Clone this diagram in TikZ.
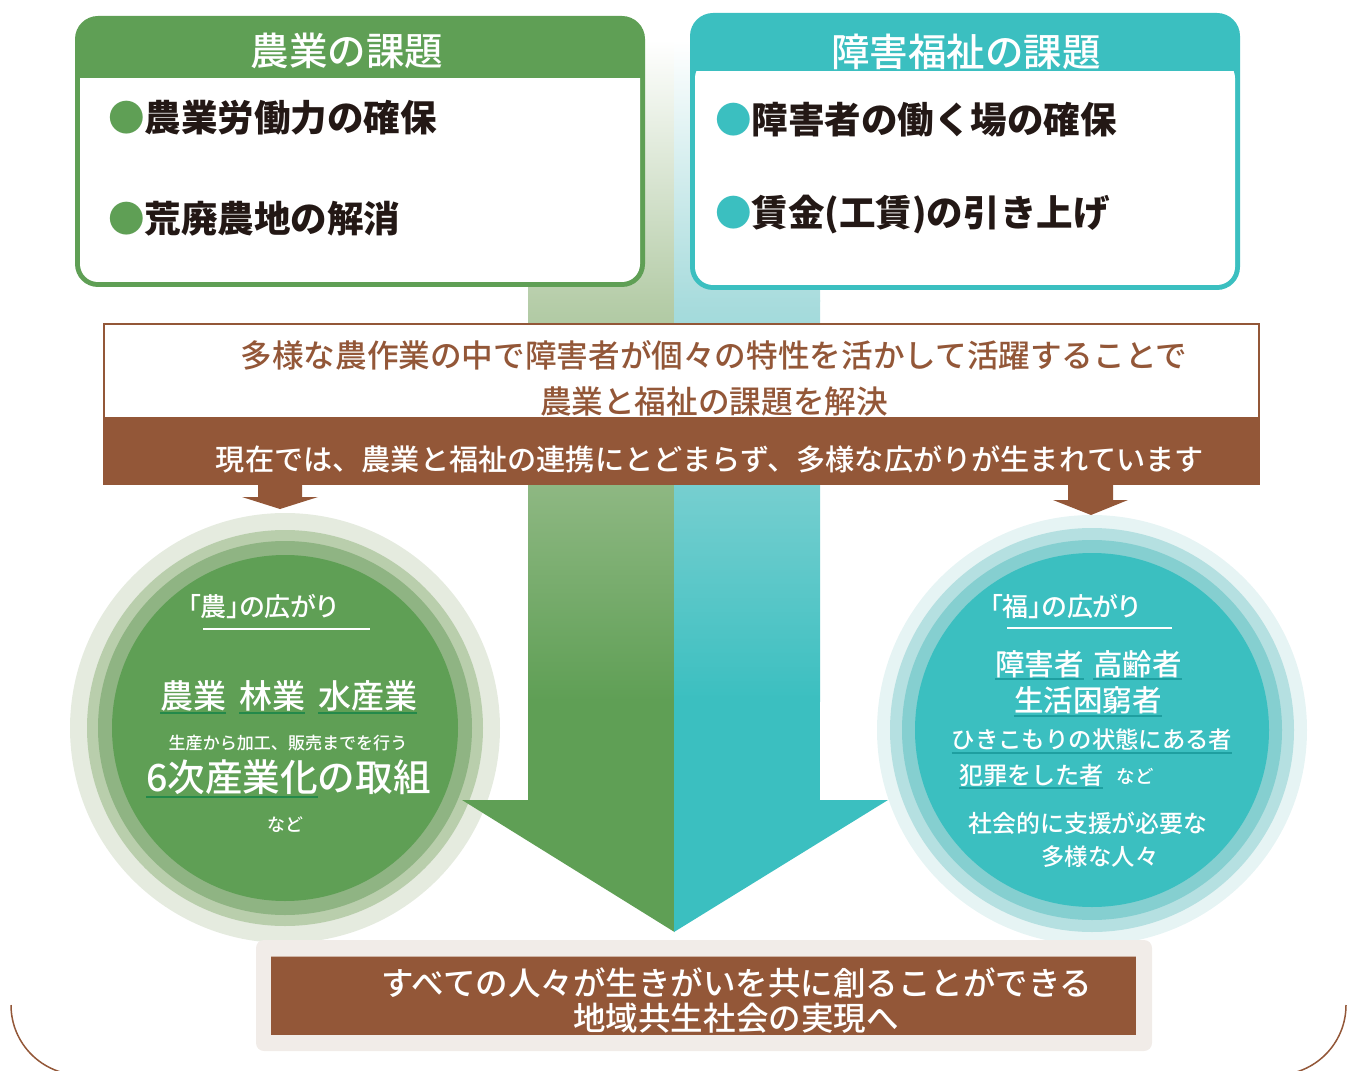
\documentclass[tikz,border=0pt]{standalone}
\usepackage{fontspec}
\setmainfont{Noto Sans CJK JP}
\newfontfamily\med{Noto Sans CJK JP Medium}
\newfontfamily\medp[RawFeature=+palt]{Noto Sans CJK JP Medium}
\definecolor{agri}{HTML}{5F9F55}
\definecolor{agriL}{HTML}{B6CDA9}
\definecolor{welf}{HTML}{3BBFC0}
\definecolor{welfL}{HTML}{A9DCDD}
\definecolor{brn}{HTML}{935738}
\definecolor{ink}{HTML}{231815}
\definecolor{beige}{HTML}{F1ECE8}
\definecolor{ulgreen}{HTML}{23894A}
\definecolor{ulteal}{HTML}{1E9FA0}
\definecolor{gA}{HTML}{E5EBDF}
\definecolor{gB}{HTML}{B9CEAC}
\definecolor{gC}{HTML}{8FB483}
\definecolor{tA}{HTML}{E6F4F4}
\definecolor{tB}{HTML}{B5E0E1}
\definecolor{tC}{HTML}{85CFD0}
\newcommand\fz[1]{\fontsize{#1}{#1}\selectfont}
\begin{document}
\begin{tikzpicture}[x=0.02cm,y=-0.02cm,
  t/.style={inner sep=0pt, outer sep=0pt},
  ulg/.style={draw=ulgreen, line width=0.04cm},
  ult/.style={draw=ulteal, line width=0.04cm},
  ulw/.style={draw=white, line width=0.04cm}]
\useasboundingbox (0,0) rectangle (1349,1071);
% columns
\shade[top color=white, bottom color=agriL] (528,40) rectangle (674.5,301);
\shade[top color=agriL, bottom color=agri] (528,300) rectangle (674.5,701);
\fill[agri] (528,700) rectangle (674.5,801);
\shade[top color=white, bottom color=welfL] (674,40) rectangle (820,301);
\shade[top color=welfL, bottom color=welf] (674,300) rectangle (820,701);
\fill[welf] (674,700) rectangle (820,801);
% top boxes
\fill[agri, rounded corners=0.46cm] (75,16) rectangle (645,287);
\fill[white, rounded corners=0.36cm] (80,60) rectangle (640,282);
\fill[agri] (79,50) rectangle (641,78);
\fill[welf, rounded corners=0.46cm] (690,13) rectangle (1240,290);
\fill[white, rounded corners=0.36cm] (695,60) rectangle (1235,285);
\fill[welf] (694,50) rectangle (1236,71);
% middle box and band
\draw[brn, line width=0.04cm, fill=white] (104,324) rectangle (1259,418);
\fill[brn] (103,418) rectangle (1260,485);
% circles
\fill[gA] (285,728) circle (215);
\fill[gB] (285,728) circle (198);
\fill[gC] (285,728) circle (187);
\fill[agri] (285,728) circle (173);
\fill[tA] (1092,730) circle (215);
\fill[tB] (1092,730) circle (202);
\fill[tC] (1092,730) circle (190);
\fill[welf] (1092,730) circle (177);
% big arrow head
\fill[agri] (462,800) -- (674.5,800) -- (674.5,932) -- cycle;
\fill[welf] (674,800) -- (888,800) -- (674,932) -- cycle;
% small arrows
\fill[brn] (258,484) -- (302,484) -- (302,497) -- (318,497) -- (280,509) -- (242,497) -- (258,497) -- cycle;
\fill[brn] (1068,484) -- (1113,484) -- (1113,500) -- (1128,500) -- (1091,515) -- (1053,500) -- (1068,500) -- cycle;
% bottom box
\fill[beige, rounded corners=0.16cm] (256,940) rectangle (1152,1051);
\fill[brn] (271,956) rectangle (1136,1035);
\draw[brn!45, line width=0.02cm] (271,956.5) -- (1136,956.5);
% frame curves
\draw[brn, line width=0.03cm] (11,1005) .. controls (11,1043.7) and (42.3,1075) .. (81,1075);
\draw[brn, line width=0.03cm] (1346,1005) .. controls (1346,1043.7) and (1314.7,1075) .. (1276,1075);

% ---- texts: top boxes
\node[t, text=white, font=\med\fz{21.9pt}] (agtitle) at (347,51) {農業の課題};
\node[t, text=ink, font=\bfseries\fz{20.8pt}, anchor=west] (ag1) at (108,118) {\textcolor{agri}{●}農業労働力の確保};
\node[t, text=ink, font=\bfseries\fz{20.8pt}, anchor=west] (ag2) at (108,219) {\textcolor{agri}{●}荒廃農地の解消};
\node[t, text=white, font=\med\fz{21.9pt}] (wftitle) at (966,52) {障害福祉の課題};
\node[t, text=ink, font=\bfseries\fz{20.8pt}, anchor=west] (wf1) at (715,120) {\textcolor{welf}{●}障害者の働く場の確保};
\node[t, text=ink, font=\bfseries\fz{20.8pt}, anchor=west] (wf2) at (715,215) {\textcolor{welf}{●}賃金(工賃)の引き上げ};
% middle
\node[t, text=brn, font=\med\fz{18pt}] (mid1) at (714,355) {多様な農作業の中で障害者が個々の特性を活かして活躍することで};
\node[t, text=brn, font=\med\fz{18pt}] (mid2) at (714,402) {農業と福祉の課題を解決};
\node[t, text=white, font=\med\fz{16.6pt}] (band) at (710,459) {現在では、農業と福祉の連携にとどまらず、多様な広がりが生まれています};
% left circle
\node[t, text=white, font=\medp\fz{14.8pt}] (ltitle) at (263,607) {「農」の広がり};
\draw[ulw] (203,629) -- (370,629);
\node[t, text=white, font=\med\fz{18.8pt}, anchor=west] (w1) at (160,696) {農業};
\node[t, text=white, font=\med\fz{18.8pt}, anchor=west] (w2) at (239,696) {林業};
\node[t, text=white, font=\med\fz{18.8pt}, anchor=west] (w3) at (318,696) {水産業};
\draw[ulg] ([yshift=-1pt]w1.south west) -- ([yshift=-1pt]w1.south east);
\draw[ulg] ([yshift=-1pt]w2.south west) -- ([yshift=-1pt]w2.south east);
\draw[ulg] ([yshift=-1pt]w3.south west) -- ([yshift=-1pt]w3.south east);
\node[t, text=white, font=\med\fz{9.7pt}] (sub) at (288,743) {生産から加工、販売までを行う};
\node[t, text=white, font=\med\fz{21.4pt}, anchor=west] (six) at (146,777) {6次産業化};
\node[t, text=white, font=\med\fz{21.4pt}, anchor=base west] (tk) at (six.base east) {の取組};
\draw[ulg] ([yshift=-1.5pt]six.south west) -- ([yshift=-1.5pt]six.south east);
\node[t, text=white, font=\med\fz{10.2pt}] (lnado) at (285,825) {など};
% right circle
\node[t, text=white, font=\medp\fz{14.8pt}] (rtitle) at (1065,607) {「福」の広がり};
\draw[ulw] (1007,628) -- (1172,628);
\node[t, text=white, font=\med\fz{16.8pt}, anchor=west] (r1) at (995,664) {障害者};
\node[t, text=white, font=\med\fz{16.8pt}, anchor=west] (r2) at (1093,664) {高齢者};
\node[t, text=white, font=\med\fz{16.8pt}] (r3) at (1088,700) {生活困窮者};
\node[t, text=white, font=\med\fz{13.3pt}] (r4) at (1092,740) {ひきこもりの状態にある者};
\node[t, text=white, font=\med\fz{13.7pt}, anchor=west] (r5) at (959,775) {犯罪をした者};
\node[t, text=white, font=\med\fz{10.5pt}] (rnado) at (1135,776) {など};
\draw[ult] ([yshift=-1pt]r1.south west) -- ([yshift=-1pt]r1.south east);
\draw[ult] ([yshift=-1pt]r2.south west) -- ([yshift=-1pt]r2.south east);
\draw[ult] ([yshift=-1pt]r3.south west) -- ([yshift=-1pt]r3.south east);
\draw[ult] ([yshift=-1pt]r4.south west) -- ([yshift=-1pt]r4.south east);
\draw[ult] ([yshift=-1pt]r5.south west) -- ([yshift=-1pt]r5.south east);
\node[t, text=white, font=\med\fz{13.6pt}] (r6) at (1088,823) {社会的に支援が必要な};
\node[t, text=white, font=\med\fz{13.3pt}] (r7) at (1100,857) {多様な人々};
% bottom
\node[t, text=white, font=\med\fz{18.5pt}] (b1) at (737,983) {すべての人々が生きがいを共に創ることができる};
\node[t, text=white, font=\med\fz{18.5pt}] (b2) at (736,1018) {地域共生社会の実現へ};
\end{tikzpicture}
\end{document}
